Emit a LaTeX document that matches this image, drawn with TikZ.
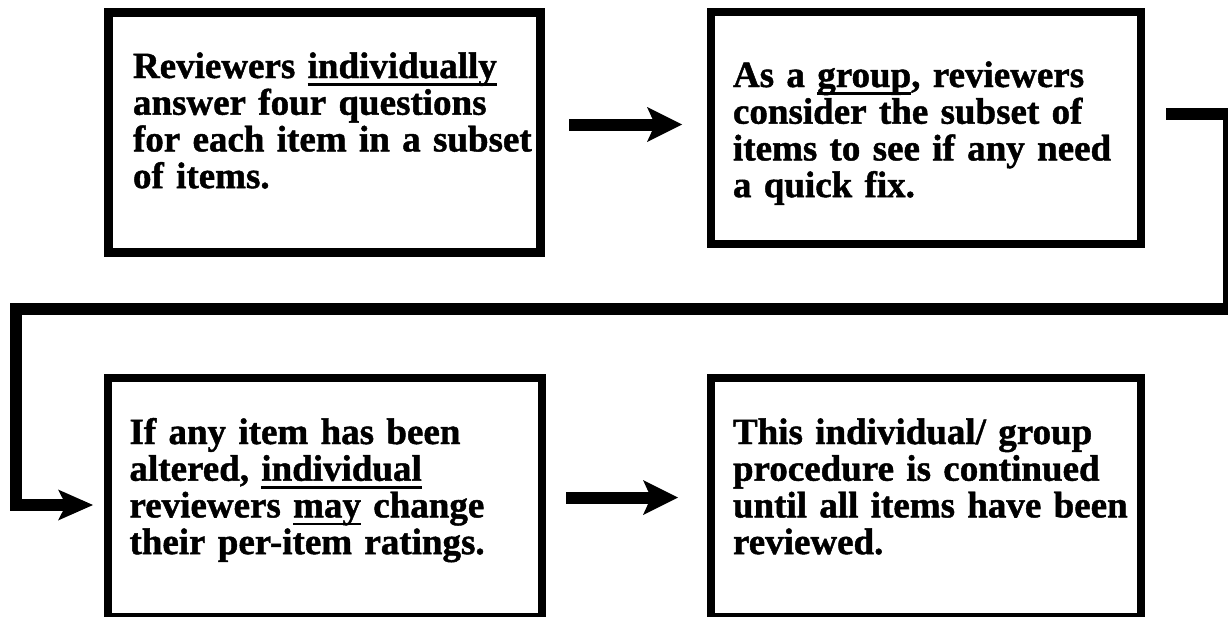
\documentclass[tikz,border=0pt]{standalone}
\usepackage{fontspec}
\setmainfont{Liberation Serif}[BoldFeatures={FakeBold=1.2}]
\usetikzlibrary{arrows.meta,calc}
\newcommand\ulin[1]{\leavevmode\setbox0\hbox{#1}\rlap{\rule[-8pt]{\wd0}{2.7pt}}\box0\relax}
\begin{document}
\begin{tikzpicture}[x=1pt,y=-1pt,
  box/.style={draw, rectangle, line width=8pt, outer sep=0pt, inner ysep=0pt, inner xsep=22pt,
    align=left, anchor=north west, font=\bfseries\fontsize{37}{36.7}\selectfont},
  conn/.style={line width=12pt, line join=miter},
  bigtip/.style={-{Stealth[length=35pt,width=35pt,inset=8pt,line width=0pt]}},
  looptip/.style={-{Stealth[length=35pt,width=31pt,inset=8pt,line width=0pt]}}]
\path[clip, use as bounding box] (0,0) rectangle (1228,616);
\fill[white] (0,0) rectangle (1228,616);

\node[box, line width=9pt, inner xsep=24.5pt, text width=383pt, text height=65.5pt, text depth=174.5pt]
  (b1) at (108.5,12.5)
  {\mbox{Reviewers \ulin{individually}}\\\mbox{answer four questions}\\\mbox{for each item in a subset}\\\mbox{of items.}};
\node[box, text width=386pt, text height=75pt, text depth=157pt]
  (b2) at (711,12)
  {\mbox{As a \ulin{group}, reviewers}\\\mbox{consider the subset of}\\\mbox{items to see if any need}\\\mbox{a quick fix.}};
\node[box, text width=390pt, text height=66pt, text depth=173pt]
  (b3) at (107.5,378)
  {\mbox{If any item has been}\\\mbox{altered, \ulin{individual}}\\\mbox{reviewers \ulin{may} change}\\\mbox{their per-item ratings.}};
\node[box, text width=386pt, text height=66pt, text depth=173pt]
  (b4) at (711,378)
  {\mbox{This individual/ group}\\\mbox{procedure is continued}\\\mbox{until all items have been}\\\mbox{reviewed.}};

\draw[conn, bigtip] ($(b1.north east)+(28.5,112)$) -- ($(b2.north west)+(-29,112.5)$);
\draw[conn, bigtip] ($(b3.north east)+(24.5,119.5)$) -- ($(b4.north west)+(-33,119.5)$);

\coordinate (loopstart) at ($(b2.north east)+(25,102)$);
\coordinate (loopend) at ($(b3.north west)+(-14.5,127)$);
\draw[conn, looptip] (loopstart) -- (1229,114) -- (1229,308.5) -- (16,308.5) -- (16,505) -- (loopend);
\end{tikzpicture}
\end{document}
